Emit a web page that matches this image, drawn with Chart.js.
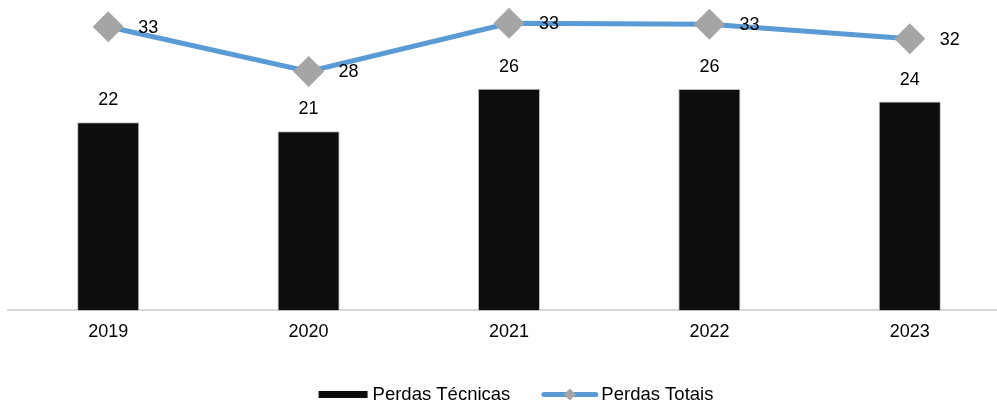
<!DOCTYPE html>
<html>
<head>
<meta charset="utf-8">
<script src="https://cdn.jsdelivr.net/npm/chart.js@4/dist/chart.umd.min.js"></script>
<style>
  html, body { margin: 0; padding: 0; background: #fff; overflow: hidden; }
  #wrap { width: 997px; height: 403px; overflow: hidden; position: relative; }
  canvas { display: block; }
</style>
</head>
<body>
<div id="wrap"><canvas id="c" width="1010" height="403"></canvas></div>
<script>
// ---- data ----
const categories = ['2019', '2020', '2021', '2022', '2023'];
const perdasTecnicas = [21.9, 20.85, 25.8, 25.75, 24.3];
const perdasTotais = [33.0, 27.8, 33.4, 33.3, 31.6];
const seriesNames = ['Perdas Técnicas', 'Perdas Totais'];

const FONT = '"Liberation Sans", Arial, Helvetica, sans-serif';
const BAR_COLOR = '#0d0d0d';
const LINE_COLOR = '#5b9bd5';
const MARKER_COLOR = '#a5a5a5';

const valueLabels = {
  id: 'valueLabels',
  afterDatasetsDraw(chart) {
    const ctx = chart.ctx;
    ctx.save();
    ctx.font = '18px ' + FONT;
    ctx.fillStyle = '#000';
    ctx.textBaseline = 'middle';
    chart.data.datasets.forEach((ds, di) => {
      const meta = chart.getDatasetMeta(di);
      meta.data.forEach((el, i) => {
        const txt = String(Math.round(ds.data[i]));
        if (ds.type === 'bar') {
          ctx.textAlign = 'center';
          ctx.fillText(txt, el.x, el.y - 22);
        } else {
          ctx.textAlign = 'left';
          ctx.fillText(txt, el.x + 30, el.y + 1);
        }
      });
    });
    ctx.restore();
  }
};

const customLegend = {
  id: 'customLegend',
  afterDraw(chart) {
    const ctx = chart.ctx;
    ctx.save();
    ctx.font = '18.5px ' + FONT;
    const y = 394.5;
    const w1 = ctx.measureText(seriesNames[0]).width;
    const w2 = ctx.measureText(seriesNames[1]).width;
    const sw1 = 49, g1 = 5, gap = 31, sw2 = 57, g2 = 3;
    const total = sw1 + g1 + w1 + gap + sw2 + g2 + w2;
    let x = 516 - total / 2;
    ctx.fillStyle = BAR_COLOR;
    ctx.fillRect(x, y - 3.5, sw1, 7);
    ctx.fillStyle = '#000';
    ctx.textAlign = 'left';
    ctx.textBaseline = 'middle';
    ctx.fillText(seriesNames[0], x + sw1 + g1, y);
    x += sw1 + g1 + w1 + gap;
    ctx.strokeStyle = LINE_COLOR;
    ctx.lineWidth = 5;
    ctx.lineCap = 'round';
    ctx.beginPath();
    ctx.moveTo(x + 2.5, y);
    ctx.lineTo(x + sw2 - 2.5, y);
    ctx.stroke();
    const cx = x + sw2 / 2, r = 6;
    ctx.fillStyle = MARKER_COLOR;
    ctx.beginPath();
    ctx.moveTo(cx - r, y); ctx.lineTo(cx, y - r); ctx.lineTo(cx + r, y); ctx.lineTo(cx, y + r);
    ctx.closePath();
    ctx.fill();
    ctx.fillStyle = '#000';
    ctx.fillText(seriesNames[1], x + sw2 + g2, y);
    ctx.restore();
  }
};

new Chart(document.getElementById('c'), {
  data: {
    labels: categories,
    datasets: [
      {
        type: 'line',
        label: seriesNames[1],
        data: perdasTotais,
        order: 0,
        borderColor: LINE_COLOR,
        borderWidth: 5,
        tension: 0,
        pointStyle: 'rectRot',
        pointRadius: 15.5,
        pointHoverRadius: 15.5,
        pointBackgroundColor: MARKER_COLOR,
        pointBorderColor: MARKER_COLOR,
        pointBorderWidth: 0
      },
      {
        type: 'bar',
        label: seriesNames[0],
        data: perdasTecnicas,
        order: 1,
        backgroundColor: BAR_COLOR,
        borderColor: '#bfbfbf',
        borderWidth: 1,
        categoryPercentage: 1,
        barPercentage: 0.31
      }
    ]
  },
  options: {
    responsive: false,
    animation: false,
    events: [],
    layout: { autoPadding: false, padding: { left: 8, right: 0, top: 1, bottom: 49 } },
    plugins: { legend: { display: false }, tooltip: { enabled: false } },
    scales: {
      x: {
        grid: { display: false, drawTicks: false },
        border: { display: true, color: '#d9d9d9', width: 2 },
        ticks: { color: '#000', font: { family: FONT, size: 18 }, padding: 11 }
      },
      y: { display: false, min: 0, max: 36 }
    }
  },
  plugins: [valueLabels, customLegend]
});
</script>
</body>
</html>
